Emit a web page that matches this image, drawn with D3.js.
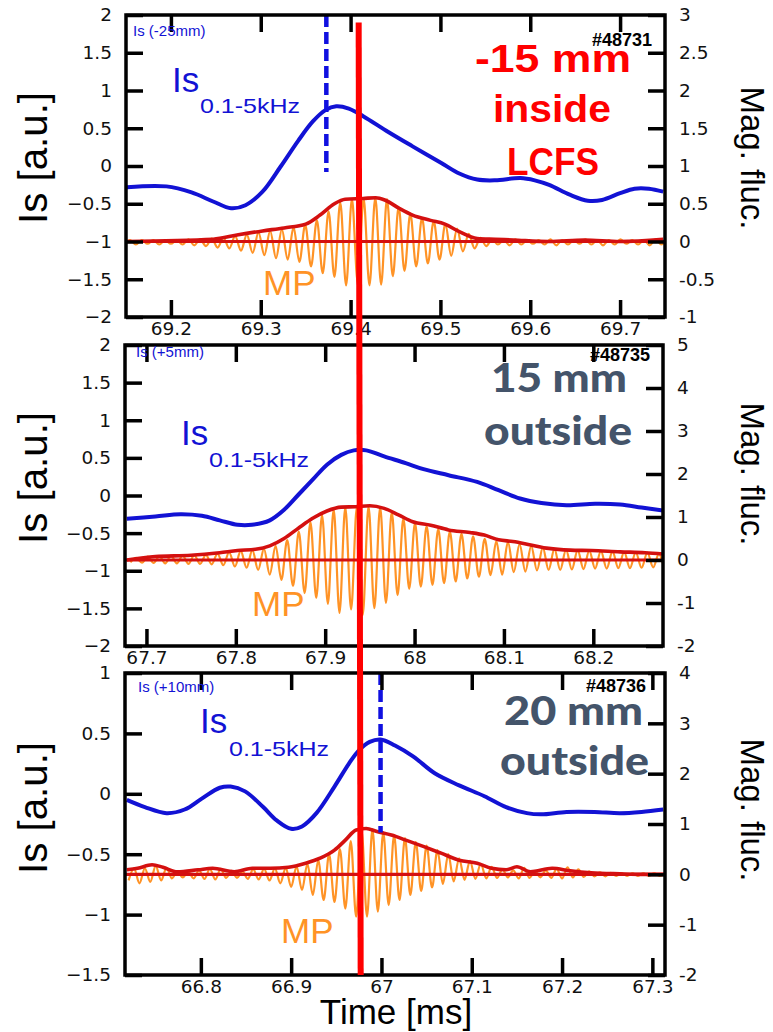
<!DOCTYPE html>
<html>
<head>
<meta charset="utf-8">
<script src="https://cdn.jsdelivr.net/npm/d3@7"></script>
<style>
  body { margin: 0; background: #fff; }
</style>
</head>
<body>
<svg id="fig" width="773" height="1032"></svg>
<script>
// ---------------- data ----------------
const shots      = ["#48731", "#48735", "#48736"];
const probeTags  = ["Is (-25mm)", "Is (+5mm)", "Is (+10mm)"];
const posLines   = [["-15 mm", "inside", "LCFS"], ["15 mm", "outside"], ["20 mm", "outside"]];

const timeDomains = [[69.15, 69.75], [67.676, 68.278], [66.716, 67.314]];
const timeTicks   = [[69.2, 69.3, 69.4, 69.5, 69.6, 69.7],
                     [67.7, 67.8, 67.9, 68, 68.1, 68.2],
                     [66.8, 66.9, 67, 67.1, 67.2, 67.3]];
const isDomains  = [[-2, 2], [-2, 2], [-1.5, 1]];
const isTicks    = [[-2, -1.5, -1, -0.5, 0, 0.5, 1, 1.5, 2],
                    [-2, -1.5, -1, -0.5, 0, 0.5, 1, 1.5, 2],
                    [-1.5, -1, -0.5, 0, 0.5, 1]];
const magDomains = [[-1, 3], [-2, 5], [-2, 4]];
const magTicks   = [[-1, -0.5, 0, 0.5, 1, 1.5, 2, 2.5, 3],
                    [-2, -1, 0, 1, 2, 3, 4, 5],
                    [-2, -1, 0, 1, 2, 3, 4]];

// Is (0.1-5 kHz) traces, left axis
const isT1 = [69.151,69.195,69.223,69.247,69.267,69.283,69.302,69.322,69.342,69.358,69.372,69.384,69.398,69.414,69.442,69.469,69.501,69.521,69.541,69.561,69.589,69.605,69.621,69.644,69.664,69.680,69.700,69.716,69.732,69.748];
const isV1 = [-0.28,-0.27,-0.35,-0.47,-0.56,-0.52,-0.34,-0.01,0.34,0.59,0.74,0.79,0.76,0.66,0.45,0.26,0.04,-0.10,-0.18,-0.19,-0.16,-0.19,-0.25,-0.38,-0.46,-0.45,-0.36,-0.30,-0.30,-0.34];
const isT2 = [67.678,67.710,67.738,67.762,67.782,67.802,67.818,67.838,67.854,67.870,67.886,67.902,67.918,67.932,67.946,67.966,67.990,68.010,68.038,68.070,68.094,68.118,68.142,68.170,68.202,68.230,68.254,68.278];
const isV2 = [-0.31,-0.28,-0.25,-0.27,-0.33,-0.39,-0.39,-0.33,-0.19,0.01,0.21,0.41,0.54,0.60,0.60,0.52,0.43,0.35,0.27,0.18,0.07,-0.04,-0.10,-0.13,-0.11,-0.12,-0.16,-0.20];
const isT3 = [66.718,66.738,66.762,66.782,66.801,66.821,66.833,66.849,66.869,66.884,66.900,66.912,66.928,66.948,66.964,66.975,66.987,66.999,67.015,67.035,67.059,67.086,67.114,67.138,67.161,67.177,67.205,67.236,67.264,67.288,67.312];
const isV3 = [-0.05,-0.11,-0.16,-0.13,-0.04,0.05,0.06,0.02,-0.11,-0.22,-0.29,-0.27,-0.16,0.06,0.25,0.36,0.43,0.45,0.40,0.31,0.17,0.07,-0.02,-0.11,-0.16,-0.17,-0.15,-0.15,-0.16,-0.15,-0.13];

// MP envelope, right axis
const envT1 = [69.151,69.247,69.275,69.302,69.326,69.350,69.366,69.382,69.394,69.414,69.428,69.438,69.454,69.469,69.489,69.505,69.521,69.541,69.561,69.581,69.621,69.660,69.700,69.748];
const envV1 = [0,0.03,0.09,0.14,0.18,0.23,0.35,0.50,0.56,0.57,0.58,0.55,0.44,0.35,0.28,0.23,0.13,0.04,0.03,0.02,0,0.02,0,0.03];
const envT2 = [67.678,67.710,67.750,67.782,67.802,67.822,67.838,67.854,67.870,67.886,67.902,67.918,67.934,67.950,67.966,67.982,67.998,68.018,68.038,68.062,68.078,68.094,68.110,68.130,68.150,68.174,68.198,68.230,68.258,68.278];
const envV2 = [0,0.08,0.11,0.17,0.22,0.25,0.33,0.50,0.74,0.97,1.14,1.23,1.24,1.26,1.20,1.05,0.89,0.81,0.70,0.64,0.58,0.47,0.43,0.35,0.27,0.23,0.22,0.19,0.17,0.14];
const envT3 = [66.718,66.730,66.746,66.758,66.774,66.797,66.813,66.837,66.857,66.877,66.897,66.916,66.932,66.948,66.960,66.972,66.983,66.995,67.011,67.027,67.047,67.066,67.086,67.106,67.122,67.138,67.150,67.165,67.189,67.209,67.232,67.264,67.292,67.314];
const envV3 = [0.09,0.12,0.19,0.14,0.05,0.09,0.12,0.05,0.12,0.12,0.14,0.22,0.32,0.48,0.68,0.88,0.91,0.85,0.78,0.68,0.55,0.42,0.28,0.22,0.12,0.09,0.15,0.05,0.12,0.07,0.03,0.01,0,0];

// MP oscillation: first trough time, cycle length, then per-cycle trough / peak values
const mpStart  = [69.148, 67.682, 66.720];
const mpPeriod = [0.013, 0.013, 0.012];
const mpPeak1   = [0.02,0.02,0.02,0.02,0.02,0.03,0.03,0.04,0.05,0.07,0.09,0.12,0.14,0.16,0.19,0.22,0.28,0.40,0.52,0.56,0.57,0.58,0.56,0.46,0.37,0.31,0.27,0.23,0.17,0.10,0.05,0.03,0.02,0.03,0.02,0.02,0.03,0.02,0.02,0.03,0.02,0.02,0.03,0.02,0.02,0.03,0.02];
const mpTrough1 = [-0.03,-0.04,-0.03,-0.04,-0.03,-0.04,-0.05,-0.06,-0.08,-0.09,-0.12,-0.15,-0.18,-0.22,-0.24,-0.27,-0.33,-0.42,-0.47,-0.58,-0.55,-0.58,-0.57,-0.46,-0.39,-0.33,-0.29,-0.24,-0.19,-0.13,-0.09,-0.06,-0.04,-0.05,-0.04,-0.03,-0.04,-0.05,-0.04,-0.03,-0.04,-0.05,-0.04,-0.03,-0.04,-0.05,-0.04];
const mpPeak2   = [0.05,0.08,0.09,0.10,0.10,0.11,0.12,0.15,0.18,0.21,0.23,0.26,0.33,0.46,0.66,0.88,1.05,1.18,1.23,1.24,1.25,1.23,1.12,0.97,0.86,0.79,0.72,0.66,0.61,0.55,0.49,0.44,0.42,0.37,0.33,0.29,0.26,0.24,0.23,0.22,0.21,0.20,0.19,0.18,0.17,0.15,0.14];
const mpTrough2 = [-0.05,-0.06,-0.07,-0.08,-0.08,-0.09,-0.09,-0.10,-0.12,-0.15,-0.18,-0.23,-0.34,-0.46,-0.60,-0.77,-0.88,-1.02,-1.23,-1.15,-1.28,-1.12,-1.00,-0.82,-0.67,-0.62,-0.58,-0.54,-0.50,-0.43,-0.39,-0.35,-0.34,-0.28,-0.27,-0.24,-0.23,-0.23,-0.22,-0.21,-0.20,-0.20,-0.19,-0.19,-0.18,-0.17,-0.16];
const mpPeak3   = [0.12,0.12,0.17,0.13,0.06,0.05,0.08,0.11,0.11,0.07,0.06,0.10,0.11,0.12,0.13,0.16,0.21,0.28,0.40,0.50,0.66,0.86,0.90,0.84,0.78,0.72,0.64,0.57,0.48,0.40,0.32,0.27,0.21,0.15,0.10,0.08,0.13,0.07,0.08,0.11,0.14,0.10,0.06,0.04,0.03,0.02,0.02,0.02,0.02,0.02];
const mpTrough3 = [-0.12,-0.18,-0.15,-0.12,-0.08,-0.06,-0.08,-0.09,-0.10,-0.07,-0.07,-0.09,-0.10,-0.12,-0.18,-0.25,-0.31,-0.41,-0.51,-0.55,-0.68,-0.84,-0.84,-0.74,-0.61,-0.51,-0.41,-0.33,-0.26,-0.19,-0.14,-0.11,-0.09,-0.08,-0.07,-0.06,-0.08,-0.07,-0.06,-0.07,-0.08,-0.06,-0.05,-0.04,-0.04,-0.03,-0.03,-0.03,-0.03,-0.03];

// blue dashed markers (time, Is from, Is to); none in the middle panel
const dashT    = [69.373, null, 66.999];
const dashFrom = [2, null, 1];
const dashTo   = [-0.08, null, -0.32];

// red marker across the panels: time in top panel / bottom panel
const markerT = [69.409, 66.977];

// ---------------- layout / style ----------------
const boxes = [
  { l: 126, r: 665, t: 15,  b: 317 },
  { l: 125, r: 663, t: 345, b: 646 },
  { l: 125, r: 665, t: 673, b: 975 }
];
const isT = [isT1, isT2, isT3], isV = [isV1, isV2, isV3];
const envT = [envT1, envT2, envT3], envV = [envV1, envV2, envV3];
const mpPeak = [mpPeak1, mpPeak2, mpPeak3], mpTrough = [mpTrough1, mpTrough2, mpTrough3];

const SANS = "'Liberation Sans', Arial, sans-serif";
const TICKF = "'DejaVu Sans', sans-serif";
const BLUE = "#1212d4", ORANGE = "#ff9326", DRED = "#d41010", RED = "#ff0000", GRAY = "#44546a";

// label placements per panel
const tagPos  = [[133, 36], [136, 357], [138, 692]];
const shotPos = [[652, 46], [650, 361], [646, 692]];
const isPos   = [[172, 92], [181, 445], [200, 733]];
const subPos  = [[200, 113], [209, 467], [229, 756]];
const mpPos   = [[263, 295], [252, 616], [281, 943]];
const posBox  = [
  [[475, 72, 156], [493, 122, 118], [507, 175, 92]],
  [[491, 392, 136], [484, 445, 148]],
  [[504, 725, 139], [500, 775, 149]]
];
const yTitleY = [158, 478, 808];
const rTitleY = [158, 474, 810];

const svg = d3.select("#fig");
const defs = svg.append("defs");
const scales = [];

boxes.forEach((p, i) => {
  const x  = d3.scaleLinear().domain(timeDomains[i]).range([p.l, p.r]);
  const yL = d3.scaleLinear().domain(isDomains[i]).range([p.b, p.t]);
  const yR = d3.scaleLinear().domain(magDomains[i]).range([p.b, p.t]);
  scales.push({ x, yL, yR });

  defs.append("clipPath").attr("id", "clip" + i)
    .append("rect").attr("x", p.l).attr("y", p.t)
    .attr("width", p.r - p.l).attr("height", p.b - p.t);

  const g = svg.append("g");
  const data = g.append("g").attr("clip-path", "url(#clip" + i + ")");

  // Is curve
  const isPts = isT[i].map((t, k) => [t, isV[i][k]]);
  data.append("path")
    .attr("d", d3.line().x(d => x(d[0])).y(d => yL(d[1])).curve(d3.curveCatmullRom)(isPts))
    .attr("fill", "none").attr("stroke", BLUE).attr("stroke-width", 4);

  // MP oscillation (trough / peak per cycle)
  const mpPts = [];
  mpTrough[i].forEach((v, k) => {
    const t0 = mpStart[i] + k * mpPeriod[i];
    mpPts.push([t0, v]);
    mpPts.push([t0 + mpPeriod[i] / 2, mpPeak[i][k]]);
  });
  data.append("path")
    .attr("d", d3.line().x(d => x(d[0])).y(d => yR(d[1])).curve(d3.curveMonotoneX)(mpPts))
    .attr("fill", "none").attr("stroke", ORANGE).attr("stroke-width", 2.2);

  // envelope
  const envPts = envT[i].map((t, k) => [t, envV[i][k]]);
  data.append("path")
    .attr("d", d3.line().x(d => x(d[0])).y(d => yR(d[1])).curve(d3.curveMonotoneX)(envPts))
    .attr("fill", "none").attr("stroke", DRED).attr("stroke-width", 3.6);

  // zero line of MP
  data.append("line")
    .attr("x1", x(timeDomains[i][0])).attr("x2", x(timeDomains[i][1]))
    .attr("y1", yR(0)).attr("y2", yR(0))
    .attr("stroke", DRED).attr("stroke-width", 3.2);

  // dashed marker
  if (dashT[i] !== null) {
    g.append("line")
      .attr("x1", x(dashT[i])).attr("x2", x(dashT[i]))
      .attr("y1", yL(dashFrom[i])).attr("y2", yL(dashTo[i]))
      .attr("stroke", "#1010e0").attr("stroke-width", 4.5)
      .attr("stroke-dasharray", "12,5");
  }

  // axes (ticks point inwards)
  const styleAxis = sel => {
    sel.select(".domain").remove();
    sel.selectAll(".tick line").attr("stroke", "#000").attr("stroke-width", 3.5);
    sel.selectAll(".tick text").attr("font-family", TICKF).attr("font-size", 18.5).attr("fill", "#111");
  };
  g.append("g").attr("transform", `translate(0,${p.b})`)
    .call(d3.axisBottom(x).tickValues(timeTicks[i]).tickSizeInner(-17).tickSizeOuter(0)
      .tickPadding(5).tickFormat(d => String(d)))
    .call(styleAxis);
  g.append("g").attr("transform", `translate(0,${p.t})`)
    .call(d3.axisTop(x).tickValues(timeTicks[i]).tickSizeInner(-17).tickSizeOuter(0).tickFormat(""))
    .call(styleAxis);
  g.append("g").attr("transform", `translate(${p.l},0)`)
    .call(d3.axisLeft(yL).tickValues(isTicks[i]).tickSizeInner(-17).tickSizeOuter(0)
      .tickPadding(14).tickFormat(d => String(d).replace("-", "\u2212")))
    .call(styleAxis);
  g.append("g").attr("transform", `translate(${p.r},0)`)
    .call(d3.axisRight(yR).tickValues(magTicks[i]).tickSizeInner(-17).tickSizeOuter(0)
      .tickPadding(14).tickFormat(d => String(d)))
    .call(styleAxis);

  // frame
  g.append("rect").attr("x", p.l).attr("y", p.t)
    .attr("width", p.r - p.l).attr("height", p.b - p.t)
    .attr("fill", "none").attr("stroke", "#000").attr("stroke-width", 3.5);

  // in-panel texts
  g.append("text").attr("x", tagPos[i][0]).attr("y", tagPos[i][1])
    .attr("font-family", SANS).attr("font-size", 15).attr("fill", BLUE).text(probeTags[i]);
  g.append("text").attr("x", shotPos[i][0]).attr("y", shotPos[i][1]).attr("text-anchor", "end")
    .attr("font-family", SANS).attr("font-weight", "bold").attr("font-size", 18).attr("fill", "#000")
    .text(shots[i]);
  g.append("text").attr("x", isPos[i][0]).attr("y", isPos[i][1])
    .attr("font-family", SANS).attr("font-size", 35).attr("fill", BLUE).text("Is");
  g.append("text").attr("x", subPos[i][0]).attr("y", subPos[i][1])
    .attr("font-family", SANS).attr("font-size", 21).attr("fill", BLUE)
    .attr("textLength", 100).attr("lengthAdjust", "spacingAndGlyphs").text("0.1-5kHz");
  g.append("text").attr("x", mpPos[i][0]).attr("y", mpPos[i][1])
    .attr("font-family", SANS).attr("font-size", 35).attr("fill", ORANGE).text("MP");

  posLines[i].forEach((s, k) => {
    const b = posBox[i][k];
    g.append("text").attr("x", b[0]).attr("y", b[1])
      .attr("font-family", i === 0 ? SANS : "Lato, 'Open Sans', sans-serif")
      .attr("font-weight", i === 0 ? "bold" : 900)
      .attr("font-size", 39).attr("fill", i === 0 ? RED : GRAY)
      .attr("textLength", b[2]).attr("lengthAdjust", "spacingAndGlyphs")
      .text(s);
  });

  // axis titles
  svg.append("text").attr("transform", `translate(47,${yTitleY[i]}) rotate(-90)`)
    .attr("text-anchor", "middle").attr("font-family", SANS).attr("font-size", 40)
    .attr("textLength", 132).attr("lengthAdjust", "spacingAndGlyphs")
    .attr("fill", "#000").text("Is [a.u.]");
  svg.append("text").attr("transform", `translate(741,${rTitleY[i]}) rotate(90)`)
    .attr("text-anchor", "middle").attr("font-family", SANS).attr("font-size", 33)
    .attr("fill", "#000").text("Mag. fluc.");
});

// x title
svg.append("text").attr("x", 396).attr("y", 1024).attr("text-anchor", "middle")
  .attr("font-family", SANS).attr("font-size", 35).attr("fill", "#000").text("Time [ms]");

// red time marker through all panels
svg.append("line")
  .attr("x1", scales[0].x(markerT[0])).attr("y1", scales[0].yR(2.9))
  .attr("x2", scales[2].x(markerT[1])).attr("y2", scales[2].yL(-1.5))
  .attr("stroke", RED).attr("stroke-width", 6);
</script>
</body>
</html>
